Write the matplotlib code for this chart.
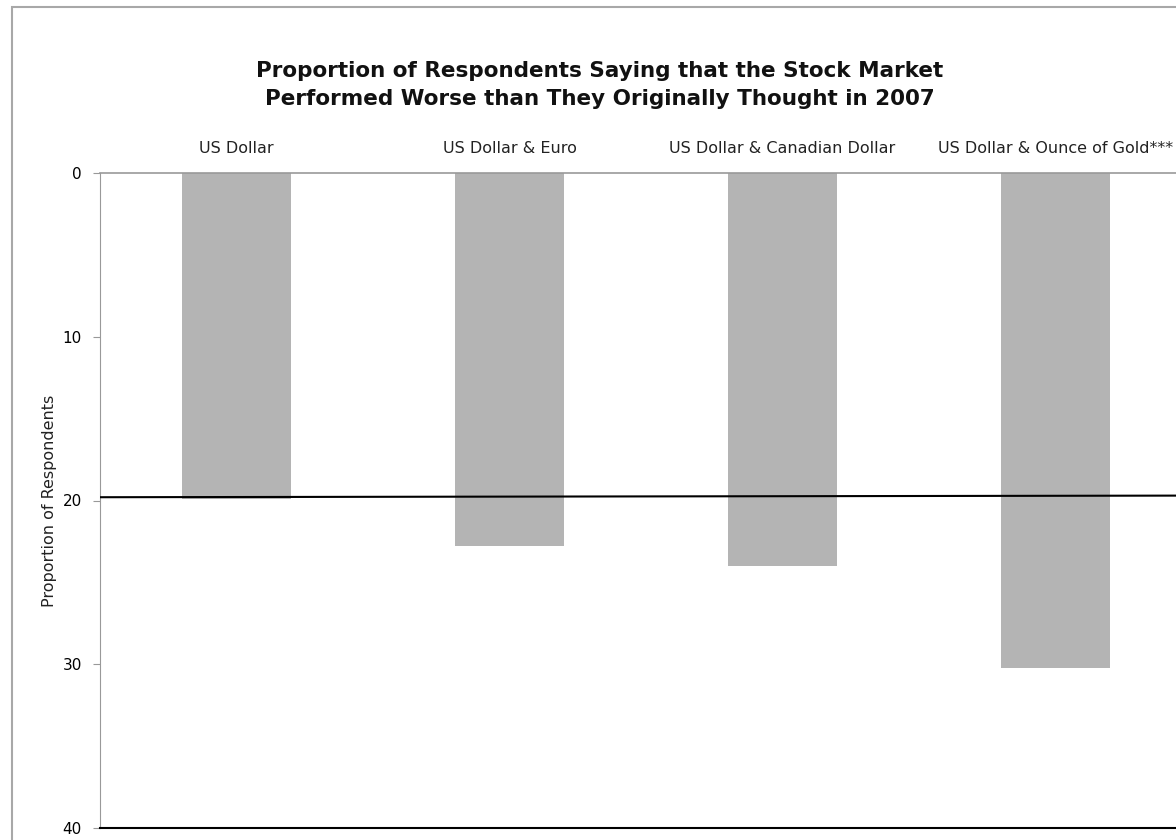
import matplotlib
matplotlib.use("Agg")
import matplotlib.pyplot as plt
from matplotlib.patches import Rectangle

categories = ["US Dollar", "US Dollar & Euro", "US Dollar & Canadian Dollar", "US Dollar & Ounce of Gold***"]
values = [19.9, 22.8, 24.0, 30.2]
ref_line = [19.8, 19.7]
yticks = [0, 10, 20, 30, 40]

fig = plt.figure(figsize=(11.76, 8.4), dpi=100)
fig.patch.set_facecolor("white")

# outer chart frame
fig.patches.append(Rectangle((12 / 1176, -0.1), 1.2, 1 - 7 / 840 + 0.1, transform=fig.transFigure,
                             fill=False, edgecolor="#a8a8a8", linewidth=1.5, zorder=0))

ax = fig.add_axes([100 / 1176, 1 - 828 / 840, 1092 / 1176, 655 / 840])
x = list(range(len(categories)))
ax.bar(x, values, width=0.4, color="#b4b4b4", zorder=2)
ax.plot([-0.5, len(categories) - 0.5], ref_line, color="black", linewidth=1.5, zorder=3)

ax.set_xlim(-0.5, len(categories) - 0.5)
ax.set_ylim(40, 0)
ax.set_yticks(yticks)
ax.tick_params(axis="y", direction="out", length=5, color="#999999", labelsize=11, pad=8)
ax.tick_params(axis="x", length=0, labelsize=11.5, pad=12)
ax.xaxis.tick_top()
ax.set_xticks(x)
ax.set_xticklabels(categories, color="#222222")
ax.spines["right"].set_visible(False)
ax.spines["left"].set_color("#999999")
ax.spines["top"].set_color("#999999")
ax.spines["top"].set_linewidth(1.2)
ax.spines["bottom"].set_color("black")
ax.spines["bottom"].set_linewidth(1.5)
ax.set_ylabel("Proportion of Respondents", fontsize=11.5, labelpad=4, color="#222222")

fig.text(600 / 1176, 1 - 85 / 840,
         "Proportion of Respondents Saying that the Stock Market\nPerformed Worse than They Originally Thought in 2007",
         ha="center", va="center", fontsize=15.5, fontweight="bold", linespacing=1.5, color="#111111")

fig.savefig("out.png", dpi=100)
